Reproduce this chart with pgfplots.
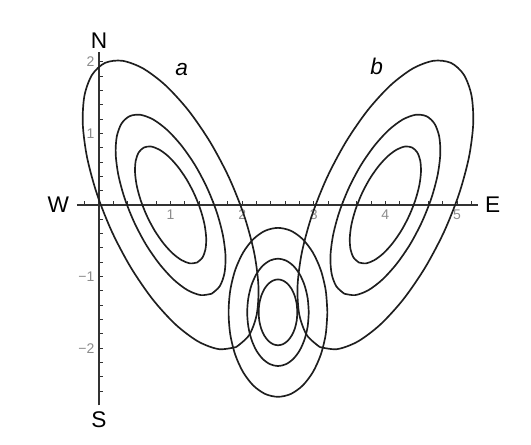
\documentclass[border=0pt]{standalone}
\usepackage{pgfplots}
\pgfplotsset{compat=1.18}
\usepackage{fontspec}
\setmainfont{Liberation Sans}
\definecolor{ink}{RGB}{30,30,30}
\definecolor{axisc}{RGB}{50,50,50}
\definecolor{tickc}{RGB}{140,140,140}
\begin{document}
\begin{tikzpicture}
\begin{axis}[
  x=53.7pt, y=53.7pt,
  axis lines=middle,
  xmin=-0.31, xmax=5.29, ymin=-2.8, ymax=2.14,
  axis line style={-, line width=1pt, axisc},
  xtick={1,2,3,4,5}, xticklabels={1,2,3,4,5},
  ytick={-2,-1,1,2}, yticklabels={−2,−1,1,2},
  minor xtick={-0.2,0,0.2,...,5.2},
  minor ytick={-2.6,-2.4,...,2},
  tick align=inside,
  major tick length=3pt, minor tick length=3pt,
  tick style={axisc, line width=0.7pt},
  ticklabel style={font=\fontsize{10.5}{12}\selectfont, text=tickc},
  clip=false,
  cont/.style={ink, solid, line width=1.25pt, smooth, mark=none},
]
% contour a (outer, middle, inner)
\addplot[cont] coordinates {(1.917,-1.984)(2.097,-1.818)(2.203,-1.529)(2.227,-1.135)(2.167,-0.665)(2.027,-0.148)(1.818,0.378)(1.553,0.878)(1.250,1.319)(0.930,1.670)(0.615,1.907)(0.326,2.014)(0.083,1.984)(-0.097,1.818)(-0.203,1.529)(-0.227,1.135)(-0.167,0.665)(-0.027,0.148)(0.182,-0.378)(0.447,-0.878)(0.750,-1.319)(1.070,-1.670)(1.385,-1.907)(1.674,-2.014)(1.917,-1.984)};
\addplot[cont] coordinates {(1.573,-1.240)(1.686,-1.136)(1.752,-0.955)(1.767,-0.710)(1.729,-0.415)(1.642,-0.093)(1.511,0.236)(1.346,0.549)(1.156,0.824)(0.956,1.044)(0.760,1.192)(0.579,1.259)(0.427,1.240)(0.314,1.136)(0.248,0.955)(0.233,0.710)(0.271,0.415)(0.358,0.093)(0.489,-0.236)(0.654,-0.549)(0.844,-0.824)(1.044,-1.044)(1.240,-1.192)(1.421,-1.259)(1.573,-1.240)};
\addplot[cont] coordinates {(1.371,-0.803)(1.444,-0.736)(1.487,-0.619)(1.497,-0.460)(1.473,-0.269)(1.416,-0.060)(1.331,0.153)(1.224,0.356)(1.101,0.534)(0.972,0.676)(0.844,0.772)(0.727,0.816)(0.629,0.803)(0.556,0.736)(0.513,0.619)(0.503,0.460)(0.527,0.269)(0.584,0.060)(0.669,-0.153)(0.776,-0.356)(0.899,-0.534)(1.028,-0.676)(1.156,-0.772)(1.273,-0.816)(1.371,-0.803)};
% contour b
\addplot[cont] coordinates {(3.083,-1.984)(2.903,-1.818)(2.797,-1.529)(2.773,-1.135)(2.833,-0.665)(2.973,-0.148)(3.182,0.378)(3.447,0.878)(3.750,1.319)(4.070,1.670)(4.385,1.907)(4.674,2.014)(4.917,1.984)(5.097,1.818)(5.203,1.529)(5.227,1.135)(5.167,0.665)(5.027,0.148)(4.818,-0.378)(4.553,-0.878)(4.250,-1.319)(3.930,-1.670)(3.615,-1.907)(3.326,-2.014)(3.083,-1.984)};
\addplot[cont] coordinates {(3.427,-1.240)(3.314,-1.136)(3.248,-0.955)(3.233,-0.710)(3.271,-0.415)(3.358,-0.093)(3.489,0.236)(3.654,0.549)(3.844,0.824)(4.044,1.044)(4.240,1.192)(4.421,1.259)(4.573,1.240)(4.686,1.136)(4.752,0.955)(4.767,0.710)(4.729,0.415)(4.642,0.093)(4.511,-0.236)(4.346,-0.549)(4.156,-0.824)(3.956,-1.044)(3.760,-1.192)(3.579,-1.259)(3.427,-1.240)};
\addplot[cont] coordinates {(3.629,-0.803)(3.556,-0.736)(3.513,-0.619)(3.503,-0.460)(3.527,-0.269)(3.584,-0.060)(3.669,0.153)(3.776,0.356)(3.899,0.534)(4.028,0.676)(4.156,0.772)(4.273,0.816)(4.371,0.803)(4.444,0.736)(4.487,0.619)(4.497,0.460)(4.473,0.269)(4.416,0.060)(4.331,-0.153)(4.224,-0.356)(4.101,-0.534)(3.972,-0.676)(3.844,-0.772)(3.727,-0.816)(3.629,-0.803)};
% contour c
\addplot[cont] coordinates {(3.190,-1.5)(3.167,-1.195)(3.098,-0.910)(2.988,-0.666)(2.845,-0.478)(2.679,-0.360)(2.5,-0.32)(2.321,-0.360)(2.155,-0.478)(2.012,-0.666)(1.902,-0.910)(1.833,-1.195)(1.81,-1.5)(1.833,-1.805)(1.902,-2.090)(2.012,-2.334)(2.155,-2.522)(2.321,-2.640)(2.5,-2.68)(2.679,-2.640)(2.845,-2.522)(2.988,-2.334)(3.098,-2.090)(3.167,-1.805)(3.190,-1.5)};
\addplot[cont] coordinates {(2.930,-1.5)(2.915,-1.306)(2.872,-1.125)(2.804,-0.970)(2.715,-0.851)(2.611,-0.776)(2.5,-0.75)(2.389,-0.776)(2.285,-0.851)(2.196,-0.970)(2.128,-1.125)(2.085,-1.306)(2.070,-1.5)(2.085,-1.694)(2.128,-1.875)(2.196,-2.030)(2.285,-2.149)(2.389,-2.224)(2.5,-2.25)(2.611,-2.224)(2.715,-2.149)(2.804,-2.030)(2.872,-1.875)(2.915,-1.694)(2.930,-1.5)};
\addplot[cont] coordinates {(2.770,-1.5)(2.761,-1.381)(2.734,-1.270)(2.691,-1.175)(2.635,-1.102)(2.570,-1.056)(2.5,-1.04)(2.430,-1.056)(2.365,-1.102)(2.309,-1.175)(2.266,-1.270)(2.239,-1.381)(2.230,-1.5)(2.239,-1.619)(2.266,-1.730)(2.309,-1.825)(2.365,-1.898)(2.430,-1.944)(2.5,-1.96)(2.570,-1.944)(2.635,-1.898)(2.691,-1.825)(2.734,-1.730)(2.761,-1.619)(2.770,-1.5)};
% compass labels
\node[font=\fontsize{17}{20}\selectfont, text=black] at (axis cs:0,2.30) {N};
\node[font=\fontsize{17}{20}\selectfont, text=black] at (axis cs:0,-3.0) {S};
\node[font=\fontsize{17}{20}\selectfont, text=black] at (axis cs:-0.57,0) {W};
\node[font=\fontsize{17}{20}\selectfont, text=black] at (axis cs:5.50,0) {E};
\node[font=\fontsize{17}{20}\selectfont\itshape, text=black] at (axis cs:1.155,1.885) {a};
\node[font=\fontsize{17}{20}\selectfont\itshape, text=black] at (axis cs:3.88,1.93) {b};
\coordinate (bl) at (axis cs:-1.383,-3.352);
\coordinate (tr) at (axis cs:6.034,2.863);
\end{axis}
\pgfresetboundingbox
\path[use as bounding box] (bl) rectangle (tr);
\end{tikzpicture}
\end{document}
